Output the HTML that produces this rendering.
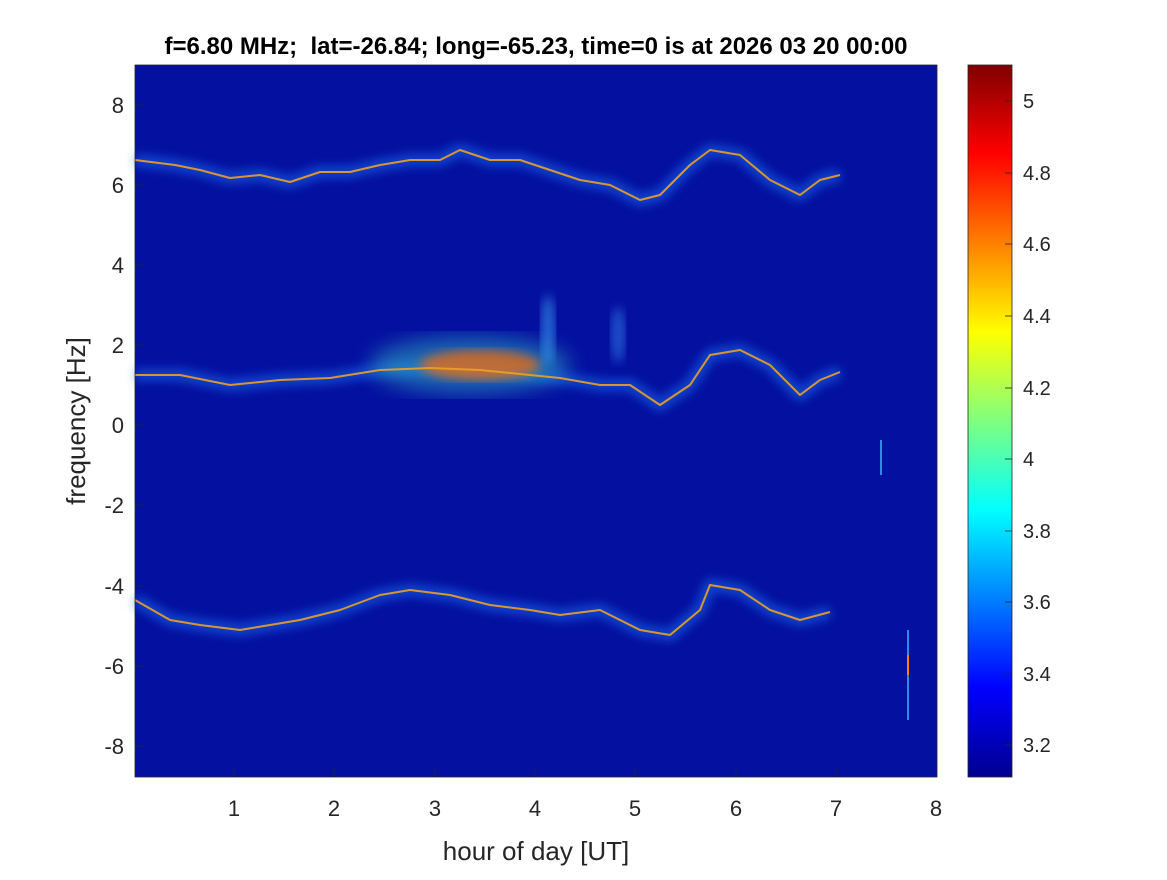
<!DOCTYPE html>
<html><head><meta charset="utf-8"><style>
body{margin:0;background:#fff;width:1167px;height:875px;overflow:hidden}
svg{font-family:"Liberation Sans",sans-serif}
</style></head><body>
<svg width="1167" height="875" viewBox="0 0 1167 875">
<defs>
<linearGradient id="jet" x1="0" y1="1" x2="0" y2="0">
<stop offset="0" stop-color="#00008f"/><stop offset="0.125" stop-color="#0000ff"/>
<stop offset="0.375" stop-color="#00ffff"/><stop offset="0.625" stop-color="#ffff00"/>
<stop offset="0.875" stop-color="#ff0000"/><stop offset="1" stop-color="#800000"/>
</linearGradient>
<filter id="b6"><feGaussianBlur stdDeviation="5"/></filter>
<filter id="b10"><feGaussianBlur stdDeviation="10"/></filter>
</defs>
<rect x="135" y="65" width="802" height="712" fill="#0410a0"/>
<g fill="none" stroke-linejoin="round">
<g stroke="#1f7cff" stroke-width="12" opacity="0.5" filter="url(#b6)">
<polyline points="135,160 175,165 200,170 230,178 260,175 290,182 320,172 350,172 380,165 410,160 440,160 460,150 490,160 520,160 550,170 580,180 610,185 640,200 660,195 690,165 710,150 740,155 770,180 800,195 820,180 840,175"/>
<polyline points="135,375 180,375 230,385 280,380 330,378 380,370 430,368 480,370 530,375 560,378 600,385 630,385 660,405 690,385 710,355 740,350 770,365 800,395 820,380 840,372"/>
<polyline points="135,600 170,620 200,625 240,630 270,625 300,620 340,610 380,595 410,590 450,595 490,605 530,610 560,615 600,610 640,630 670,635 700,610 710,585 740,590 770,610 800,620 830,612"/>
</g>
<ellipse cx="470" cy="365" rx="100" ry="28" fill="#30b0c0" opacity="0.55" filter="url(#b10)" stroke="none"/>
<ellipse cx="480" cy="365" rx="60" ry="15" fill="#ff6a00" opacity="0.7" filter="url(#b6)" stroke="none"/>
<ellipse cx="548" cy="330" rx="7" ry="35" fill="#40b0ff" opacity="0.55" filter="url(#b6)" stroke="none"/>
<ellipse cx="618" cy="335" rx="7" ry="28" fill="#40a0ff" opacity="0.45" filter="url(#b6)" stroke="none"/>
<g stroke="#f0a020" stroke-width="2" opacity="0.9">
<polyline points="135,160 175,165 200,170 230,178 260,175 290,182 320,172 350,172 380,165 410,160 440,160 460,150 490,160 520,160 550,170 580,180 610,185 640,200 660,195 690,165 710,150 740,155 770,180 800,195 820,180 840,175"/>
<polyline points="135,375 180,375 230,385 280,380 330,378 380,370 430,368 480,370 530,375 560,378 600,385 630,385 660,405 690,385 710,355 740,350 770,365 800,395 820,380 840,372"/>
<polyline points="135,600 170,620 200,625 240,630 270,625 300,620 340,610 380,595 410,590 450,595 490,605 530,610 560,615 600,610 640,630 670,635 700,610 710,585 740,590 770,610 800,620 830,612"/>
</g>
<line x1="881" y1="440" x2="881" y2="475" stroke="#40c0ff" stroke-width="2" opacity="0.7"/>
<line x1="908" y1="630" x2="908" y2="720" stroke="#40c0ff" stroke-width="2" opacity="0.7"/>
<line x1="908" y1="655" x2="908" y2="675" stroke="#ff8000" stroke-width="2"/>
</g>
<rect x="135" y="65" width="802" height="712" fill="none" stroke="#262626" stroke-width="0.8"/>
<g stroke="#262626" stroke-width="0.8">
<line x1="234" y1="777" x2="234" y2="769"/><line x1="334" y1="777" x2="334" y2="769"/><line x1="435" y1="777" x2="435" y2="769"/><line x1="535" y1="777" x2="535" y2="769"/><line x1="635" y1="777" x2="635" y2="769"/><line x1="736" y1="777" x2="736" y2="769"/><line x1="836" y1="777" x2="836" y2="769"/>
<line x1="135" y1="105" x2="143" y2="105"/><line x1="135" y1="185" x2="143" y2="185"/><line x1="135" y1="265" x2="143" y2="265"/><line x1="135" y1="345" x2="143" y2="345"/><line x1="135" y1="425" x2="143" y2="425"/><line x1="135" y1="505" x2="143" y2="505"/><line x1="135" y1="586" x2="143" y2="586"/><line x1="135" y1="666" x2="143" y2="666"/><line x1="135" y1="746" x2="143" y2="746"/>
</g>
<g font-size="22" fill="#262626" text-anchor="middle">
<text x="234" y="816">1</text><text x="334" y="816">2</text><text x="435" y="816">3</text><text x="535" y="816">4</text><text x="635" y="816">5</text><text x="736" y="816">6</text><text x="836" y="816">7</text><text x="936" y="816">8</text>
</g>
<g font-size="22" fill="#262626" text-anchor="end">
<text x="124" y="113">8</text><text x="124" y="193">6</text><text x="124" y="273">4</text><text x="124" y="353">2</text><text x="124" y="433">0</text><text x="124" y="513">-2</text><text x="124" y="594">-4</text><text x="124" y="674">-6</text><text x="124" y="754">-8</text>
</g>
<text x="536" y="860" font-size="26" fill="#262626" text-anchor="middle">hour of day [UT]</text>
<text transform="translate(85,421) rotate(-90)" font-size="26" fill="#262626" text-anchor="middle">frequency [Hz]</text>
<text x="536" y="54" font-size="24" font-weight="bold" fill="#000" text-anchor="middle" xml:space="preserve">f=6.80 MHz;  lat=-26.84; long=-65.23, time=0 is at 2026 03 20 00:00</text>
<rect x="968" y="65" width="44" height="712" fill="url(#jet)" stroke="#262626" stroke-width="0.8"/>
<g stroke="#262626" stroke-width="0.8">
<line x1="1005" y1="101" x2="1012" y2="101"/><line x1="1005" y1="173" x2="1012" y2="173"/><line x1="1005" y1="244" x2="1012" y2="244"/><line x1="1005" y1="316" x2="1012" y2="316"/><line x1="1005" y1="388" x2="1012" y2="388"/><line x1="1005" y1="459" x2="1012" y2="459"/><line x1="1005" y1="531" x2="1012" y2="531"/><line x1="1005" y1="602" x2="1012" y2="602"/><line x1="1005" y1="674" x2="1012" y2="674"/><line x1="1005" y1="745" x2="1012" y2="745"/>
</g>
<g font-size="20" fill="#262626">
<text x="1023" y="108">5</text><text x="1023" y="180">4.8</text><text x="1023" y="251">4.6</text><text x="1023" y="323">4.4</text><text x="1023" y="395">4.2</text><text x="1023" y="466">4</text><text x="1023" y="538">3.8</text><text x="1023" y="609">3.6</text><text x="1023" y="681">3.4</text><text x="1023" y="752">3.2</text>
</g>
</svg>
</body></html>
